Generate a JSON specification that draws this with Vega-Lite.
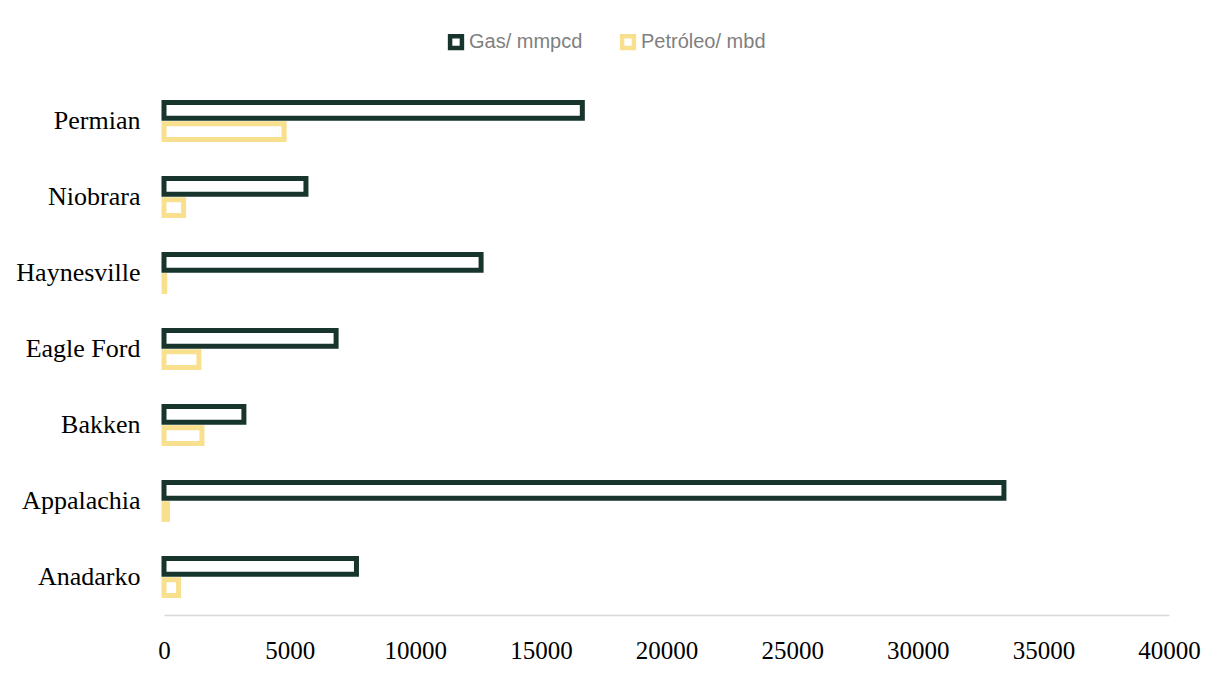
{
  "$schema": "https://vega.github.io/schema/vega-lite/v6.json",
  "width": 1005,
  "height": 532,
  "autosize": {"type": "none"},
  "padding": {"left": 164, "top": 83, "right": 46, "bottom": 78},
  "background": "white",
  "config": {"view": {"stroke": null}},
  "data": {
    "values": [
      {"cuenca": "Permian", "serie": "Gas/ mmpcd", "valor": 16650},
      {"cuenca": "Permian", "serie": "Petróleo/ mbd", "valor": 4780},
      {"cuenca": "Niobrara", "serie": "Gas/ mmpcd", "valor": 5650},
      {"cuenca": "Niobrara", "serie": "Petróleo/ mbd", "valor": 780},
      {"cuenca": "Haynesville", "serie": "Gas/ mmpcd", "valor": 12620},
      {"cuenca": "Haynesville", "serie": "Petróleo/ mbd", "valor": 30},
      {"cuenca": "Eagle Ford", "serie": "Gas/ mmpcd", "valor": 6850},
      {"cuenca": "Eagle Ford", "serie": "Petróleo/ mbd", "valor": 1390},
      {"cuenca": "Bakken", "serie": "Gas/ mmpcd", "valor": 3180},
      {"cuenca": "Bakken", "serie": "Petróleo/ mbd", "valor": 1510},
      {"cuenca": "Appalachia", "serie": "Gas/ mmpcd", "valor": 33430},
      {"cuenca": "Appalachia", "serie": "Petróleo/ mbd", "valor": 140},
      {"cuenca": "Anadarko", "serie": "Gas/ mmpcd", "valor": 7660},
      {"cuenca": "Anadarko", "serie": "Petróleo/ mbd", "valor": 580}
    ]
  },
  "mark": {"type": "bar", "fill": "white", "strokeWidth": 5},
  "encoding": {
    "y": {
      "field": "cuenca",
      "type": "nominal",
      "sort": ["Permian", "Niobrara", "Haynesville", "Eagle Ford", "Bakken", "Appalachia", "Anadarko"],
      "scale": {"paddingInner": 0.447, "paddingOuter": 0.2235},
      "axis": {
        "title": null,
        "domain": false,
        "ticks": false,
        "labelPadding": 24,
        "labelFont": "Liberation Serif",
        "labelFontSize": 26,
        "labelColor": "#000000"
      }
    },
    "yOffset": {
      "field": "serie",
      "type": "nominal",
      "sort": ["Gas/ mmpcd", "Petróleo/ mbd"],
      "scale": {"paddingInner": 0.25, "paddingOuter": 0.125}
    },
    "x": {
      "field": "valor",
      "type": "quantitative",
      "scale": {"domain": [0, 40000], "nice": false},
      "axis": {
        "title": null,
        "grid": false,
        "ticks": false,
        "values": [0, 5000, 10000, 15000, 20000, 25000, 30000, 35000, 40000],
        "format": "d",
        "labelPadding": 23,
        "labelFont": "Liberation Serif",
        "labelFontSize": 25,
        "labelColor": "#000000",
        "domainColor": "#d9d9d9",
        "domainWidth": 1.5,
        "labelFlush": false
      }
    },
    "stroke": {
      "field": "serie",
      "type": "nominal",
      "sort": ["Gas/ mmpcd", "Petróleo/ mbd"],
      "scale": {"domain": ["Gas/ mmpcd", "Petróleo/ mbd"], "range": ["#17352d", "#f8e08e"]},
      "legend": {
        "title": null,
        "orient": "none",
        "direction": "horizontal",
        "legendX": 282,
        "legendY": -51,
        "padding": 0,
        "symbolType": "square",
        "symbolSize": 140,
        "symbolStrokeWidth": 4.5,
        "symbolFillColor": "white",
        "labelFont": "Liberation Sans",
        "labelFontSize": 20,
        "labelColor": "#7f7f7f",
        "labelOffset": 3,
        "columnPadding": 30
      }
    }
  }
}
